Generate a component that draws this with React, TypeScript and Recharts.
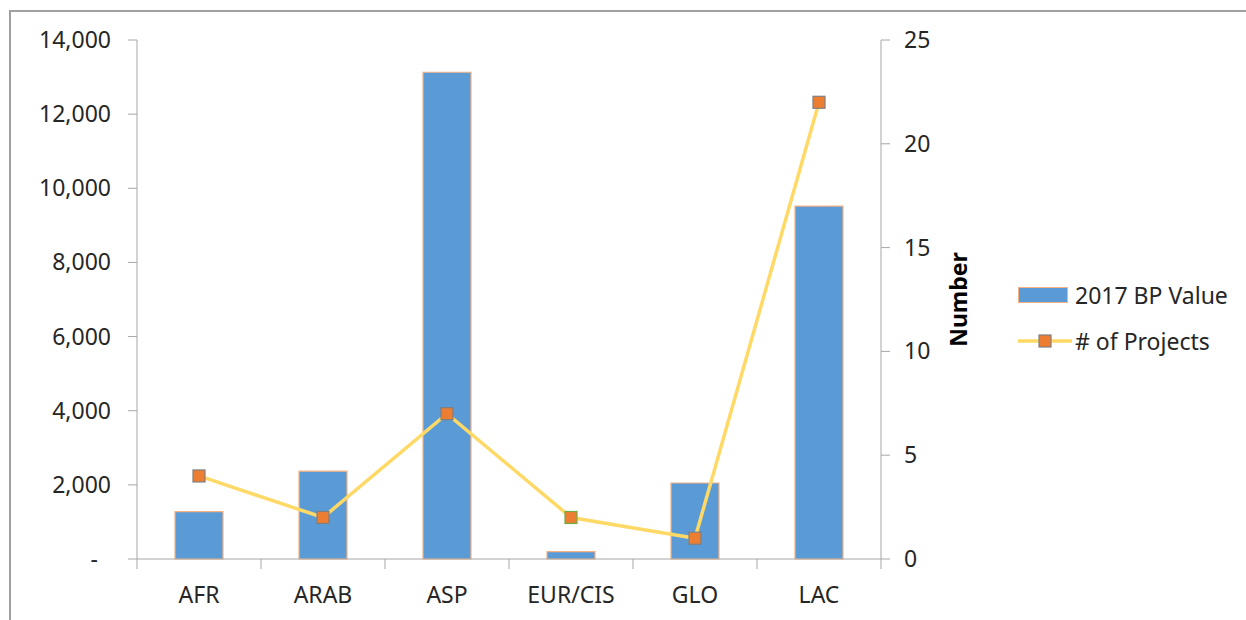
import React from 'react';
import { ComposedChart, Bar, Line, XAxis, YAxis } from 'recharts';

const categories = ['AFR', 'ARAB', 'ASP', 'EUR/CIS', 'GLO', 'LAC'];
const bpValues = [1280, 2370, 13130, 200, 2050, 9520];
const projectCounts = [4, 2, 7, 2, 1, 22];
const leftTicks = [0, 2000, 4000, 6000, 8000, 10000, 12000, 14000];
const rightTicks = [0, 5, 10, 15, 20, 25];

const data = categories.map((name, i) => ({
  name,
  bp: bpValues[i],
  projects: projectCounts[i],
}));

const FONT = "'Noto Sans', sans-serif";
const FS = 23;
const AXIS = '#a6a6a6';
const BAND = 124; // width of one category in px

function LeftTick({ x, y, payload }: any) {
  const v = payload.value as number;
  const label = v === 0 ? '-' : v.toLocaleString('en-US');
  return (
    <text x={v === 0 ? x - 28 : x - 15} y={y} dy={8} textAnchor="end" fontSize={FS} fill="#262626" fontFamily={FONT}>
      {label}
    </text>
  );
}

function RightTick({ x, y, payload }: any) {
  return (
    <text x={x + 12} y={y} dy={8} textAnchor="start" fontSize={FS} fill="#262626" fontFamily={FONT}>
      {payload.value}
    </text>
  );
}

function CatTick({ x, y, payload, index }: any) {
  return (
    <g>
      <line x1={x - BAND / 2} y1={y - 8} x2={x - BAND / 2} y2={y + 2} stroke={AXIS} />
      {index === categories.length - 1 && (
        <line x1={x + BAND / 2} y1={y - 8} x2={x + BAND / 2} y2={y + 2} stroke={AXIS} />
      )}
      <text x={x} y={y} dy={36} textAnchor="middle" fontSize={FS} fill="#262626" fontFamily={FONT}>
        {payload.value}
      </text>
    </g>
  );
}

function SquareDot({ cx, cy, index }: any) {
  const border = categories[index] === 'EUR/CIS' ? '#70ad47' : '#7f7f7f';
  return <rect x={cx - 6} y={cy - 6} width={12} height={12} fill="#ed7d31" stroke={border} strokeWidth={1.2} />;
}

export default function App() {
  return (
    <div style={{ position: 'fixed', left: 0, top: 0, width: 1246, height: 620, background: '#fff', overflow: 'hidden' }}>
      <div
        style={{
          position: 'absolute',
          left: 9,
          top: 10,
          width: 1300,
          height: 700,
          borderLeft: '2px solid #a0a0a0',
          borderTop: '2px solid #a0a0a0',
        }}
      />
      <ComposedChart
        width={1246}
        height={620}
        data={data}
        margin={{ top: 40, right: 265, bottom: 0, left: 57 }}
        style={{ position: 'absolute', left: 0, top: 0 }}
      >
        <XAxis
          dataKey="name"
          axisLine={{ stroke: AXIS }}
          tickLine={false}
          tick={<CatTick />}
          interval={0}
          height={61}
        />
        <YAxis
          yAxisId="left"
          domain={[0, 14000]}
          ticks={leftTicks}
          width={80}
          axisLine={{ stroke: AXIS }}
          tickLine={{ stroke: AXIS }}
          tickSize={9}
          tick={<LeftTick />}
          interval={0}
        />
        <YAxis
          yAxisId="right"
          orientation="right"
          domain={[0, 25]}
          ticks={rightTicks}
          width={100}
          axisLine={{ stroke: AXIS }}
          tickLine={{ stroke: AXIS }}
          tickSize={9}
          tick={<RightTick />}
          interval={0}
          label={{
            content: ({ viewBox }: any) => {
              const cx = viewBox.x + 77;
              const cy = viewBox.y + viewBox.height / 2;
              return (
                <text
                  x={cx}
                  y={cy}
                  transform={`rotate(-90, ${cx}, ${cy})`}
                  textAnchor="middle"
                  dominantBaseline="central"
                  fontSize={FS}
                  fontWeight="bold"
                  fill="#000"
                  fontFamily={FONT}
                >
                  Number
                </text>
              );
            },
          }}
        />
        <Bar
          yAxisId="left"
          dataKey="bp"
          name="2017 BP Value"
          fill="#5b9bd5"
          stroke="#f4b183"
          strokeWidth={1.2}
          barSize={48}
          isAnimationActive={false}
        />
        <Line
          yAxisId="right"
          dataKey="projects"
          name="# of Projects"
          stroke="#ffd966"
          strokeWidth={3.5}
          dot={<SquareDot />}
          activeDot={false}
          isAnimationActive={false}
        />
      </ComposedChart>
      <div style={{ position: 'absolute', left: 1018, top: 279, fontFamily: FONT, fontSize: FS, color: '#262626' }}>
        <div style={{ display: 'flex', alignItems: 'center', height: 32 }}>
          <div style={{ width: 48, height: 14, background: '#5b9bd5', border: '1px solid #f4b183' }} />
          <span style={{ marginLeft: 7 }}>2017 BP Value</span>
        </div>
        <div style={{ display: 'flex', alignItems: 'center', height: 32, marginTop: 14 }}>
          <svg width={54} height={14}>
            <line x1={0} y1={7} x2={54} y2={7} stroke="#ffd966" strokeWidth={3.5} />
            <rect x={21} y={1} width={12} height={12} fill="#ed7d31" stroke="#7f7f7f" strokeWidth={1.2} />
          </svg>
          <span style={{ marginLeft: 3 }}>{'# of Projects'}</span>
        </div>
      </div>
    </div>
  );
}
